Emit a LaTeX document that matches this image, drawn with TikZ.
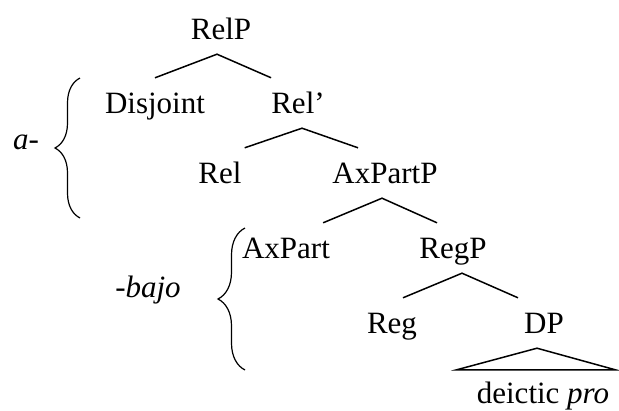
\documentclass[tikz,border=0pt]{standalone}
\usepackage{fontspec}
\setmainfont{Liberation Serif}
\usetikzlibrary{decorations.pathreplacing}

\begin{document}
\begin{tikzpicture}[x=1pt,y=-1pt,
      font=\fontsize{31}{37}\selectfont,
      cat/.style={anchor=base,inner sep=0pt,text height=35pt,text depth=15pt},
      morph/.style={anchor=base,inner sep=0pt,font=\fontsize{31}{37}\selectfont\itshape},
      branch/.style={line width=1.5pt},
      bracket/.style={line width=1.2pt,decorate,decoration={brace,amplitude=#1}},
      bracket/.default=25pt]
    \useasboundingbox (0,0) rectangle (619,410);
    % categories
    \node[cat] (RelP) at (221,39) {RelP};
    \node[cat] (Disjoint) at (155,113) {Disjoint};
    \node[cat] (Relbar) at (298,113) {Rel’};
    \node[cat] (Rel) at (220,183) {Rel};
    \node[cat] (AxPartP) at (385,183) {AxPartP};
    \node[cat] (AxPart) at (286,258) {AxPart};
    \node[cat] (RegP) at (453,258) {RegP};
    \node[cat] (Reg) at (392,333) {Reg};
    \node[cat] (DP) at (544,333) {DP};
    \node[cat,text height=33pt,text depth=5pt] (pro) at (543,403) {deictic \textit{pro}};
    % branches
    \draw[branch] (Disjoint.north) -- ([xshift=-4pt]RelP.south) -- (Relbar.north west);
    \draw[branch] ([xshift=3pt]Rel.north east) -- ([xshift=4pt]Relbar.south) -- ([xshift=-27pt]AxPartP.north);
    \draw[branch] ([xshift=-7pt]AxPart.north east) -- ([xshift=-3pt]AxPartP.south) -- ([xshift=-16pt]RegP.north);
    \draw[branch] ([xshift=11pt]Reg.north) -- ([xshift=9pt]RegP.south) -- ([xshift=-6pt]DP.north west);
    \draw[branch] ([xshift=-20pt]pro.north west) -- ([xshift=-7pt]DP.south) -- ([xshift=6pt]pro.north east) -- cycle;
    % morphemes
    \node[morph] (a) at (26,149) {a-};
    \node[morph] (bajo) at (148,297) {-bajo};
    \draw[bracket] (80,218) -- (80,78);
    \draw[bracket=27pt] (245,370) -- (245,228);
\end{tikzpicture}
\end{document}
